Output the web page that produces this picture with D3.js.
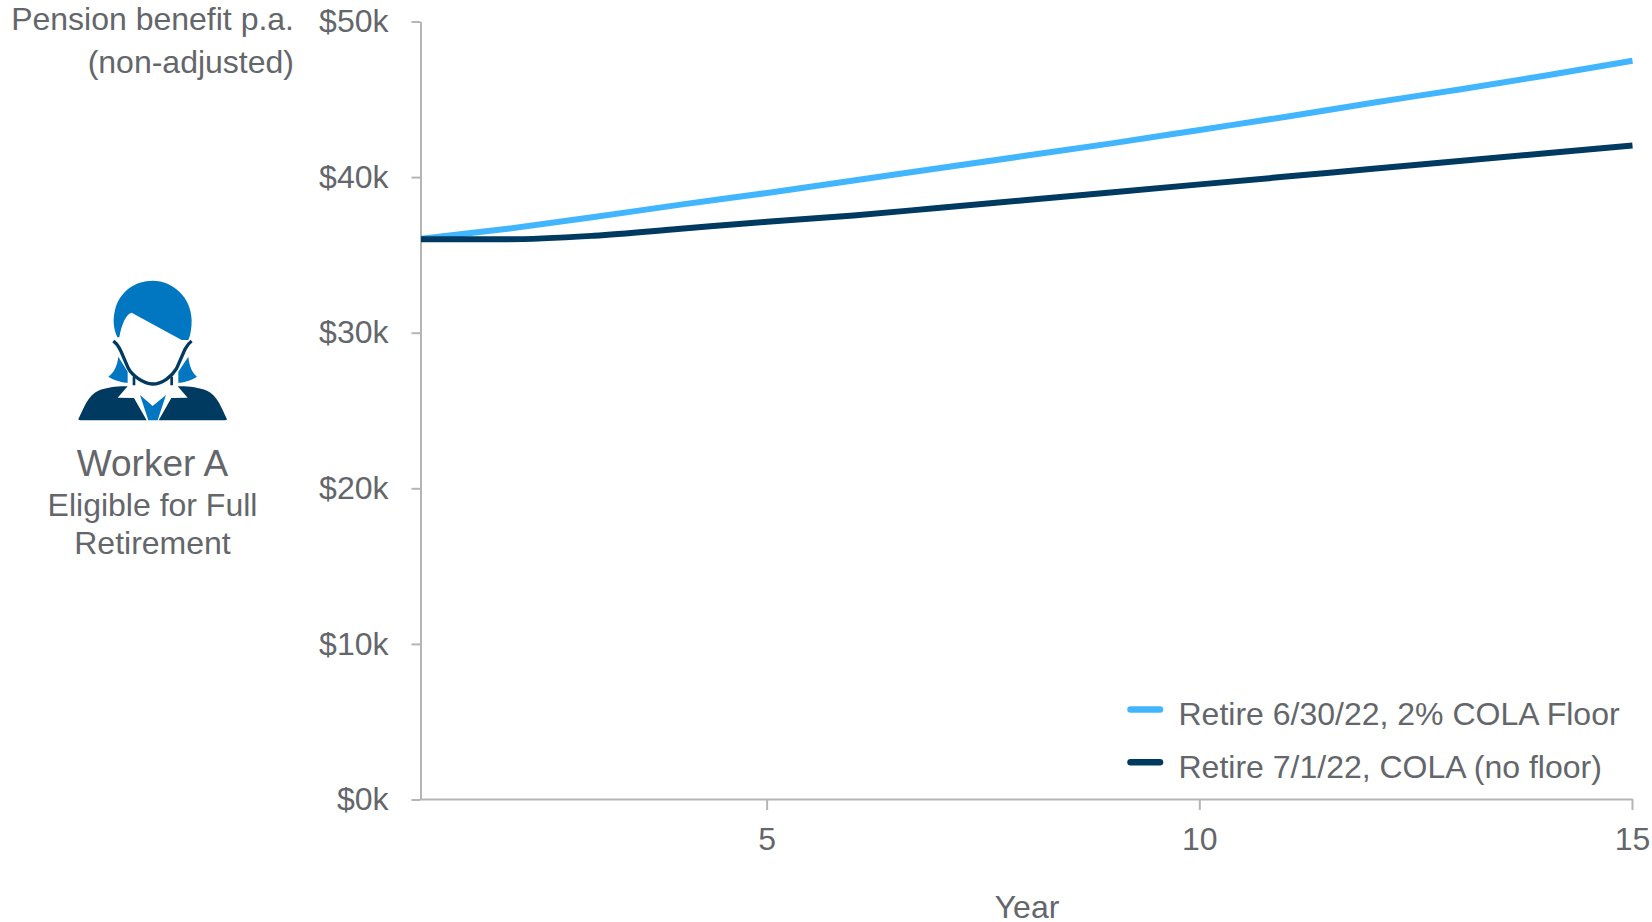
<!DOCTYPE html>
<html><head><meta charset="utf-8">
<script src="https://cdn.jsdelivr.net/npm/d3@7"></script>
<style>html,body{margin:0;padding:0;background:#fff}svg{display:block}text{font-family:"Liberation Sans",Arial,sans-serif;fill:#63666a}</style>
</head><body><svg id="c" width="1652" height="922"></svg>
<script>
const years=[1,2,3,4,5,6,7,8,9,10,11,12,13,14,15];
const floorValues=[36,36.65,37.4,38.2,38.95,39.75,40.55,41.35,42.15,43,43.85,44.75,45.6,46.5,47.45];
const noFloorValues=[35.97,35.97,36.2,36.65,37.1,37.5,38,38.5,39,39.5,40,40.5,41,41.5,42];
const xTicks=[5,10,15];
const yTicks=[0,10,20,30,40,50];
const seriesNames=["Retire 6/30/22, 2% COLA Floor","Retire 7/1/22, COLA (no floor)"];
const seriesColors=["#41b6ff","#003a60"];
const axisColor="#b5b5b5";

const svg=d3.select("#c");
const x=d3.scaleLinear().domain([1,15]).range([421,1632.5]);
const y=d3.scaleLinear().domain([0,50]).range([799,21]);

const gx=svg.append("g").attr("transform","translate(-0.5,799)").call(d3.axisBottom(x).tickValues(xTicks).tickSize(11).tickSizeOuter(0).tickPadding(17));
const gy=svg.append("g").attr("transform","translate(420.5,0.5)").call(d3.axisLeft(y).tickValues(yTicks).tickSize(9).tickSizeOuter(0).tickPadding(23).tickFormat(d=>"$"+d+"k"));
[gx,gy].forEach(g=>{
  g.select(".domain").attr("stroke",axisColor).attr("stroke-width",2);
  g.selectAll(".tick line").attr("stroke",axisColor).attr("stroke-width",2);
  g.selectAll("text").style("font-size","32px").style("font-family",'"Liberation Sans"').style("fill","#63666a");
});
const line=d3.line().x((d,i)=>x(years[i])).y(d=>y(d)).curve(d3.curveMonotoneX);
[floorValues,noFloorValues].forEach((s,i)=>{
  svg.append("path").datum(s).attr("d",line).attr("fill","none").attr("stroke",seriesColors[i]).attr("stroke-width",6);
});
// legend
seriesNames.forEach((n,i)=>{
  const ly=709.5+i*52.7;
  svg.append("line").attr("x1",1130.5).attr("x2",1160).attr("y1",ly).attr("y2",ly).attr("stroke",seriesColors[i]).attr("stroke-width",6.5).attr("stroke-linecap","round");
  svg.append("text").attr("x",1178.5).attr("y",ly+15+i).style("font-size","32px").text(n);
});
// axis titles
svg.append("text").attr("x",294).attr("y",30).attr("text-anchor","end").style("font-size","32px").text("Pension benefit p.a.");
svg.append("text").attr("x",294).attr("y",73).attr("text-anchor","end").style("font-size","32px").text("(non-adjusted)");
svg.append("text").attr("x",1027).attr("y",918).attr("text-anchor","middle").style("font-size","32px").text("Year");
// worker
const cx=152.5;
svg.append("text").attr("x",cx).attr("y",476).attr("text-anchor","middle").style("font-size","37px").text("Worker A");
svg.append("text").attr("x",cx).attr("y",516).attr("text-anchor","middle").style("font-size","32px").text("Eligible for Full");
svg.append("text").attr("x",cx).attr("y",554).attr("text-anchor","middle").style("font-size","32px").text("Retirement");
// icon
const ic=svg.append("g").attr("transform","translate(60,260) scale(0.3333)");
const blue="#0077c0",navy="#003a60";
ic.append("path").attr("fill",blue).attr("d","M172,232 C160,205 158,180 165,150 C178,95 225,62 278,62 C340,62 395,115 395,180 C395,205 392,225 385,240 L365,240 L215,158 C200,160 185,190 178,232 Z");
ic.append("path").attr("fill",blue).attr("d","M175,290 C172,320 160,340 145,350 C165,362 190,368 203,368 L203,335 Z");
ic.append("path").attr("fill",blue).attr("d","M385,290 C388,320 398,340 411,350 C392,362 368,368 355,368 L355,335 Z");
ic.append("path").attr("fill","none").attr("stroke",navy).attr("stroke-width",10).attr("d","M160,243 C172,252 176,258 182,272 L205,325 C215,345 250,372 278,372 C306,372 335,350 350,325 L375,268 C380,258 385,250 395,243");
ic.append("path").attr("fill","none").attr("stroke",navy).attr("stroke-width",8).attr("d","M222,350 V376 M335,350 V376");
ic.append("path").attr("fill",navy).attr("d","M55,478 C70,445 85,405 115,392 C140,382 175,378 203,379 L173,413 L222,414 L260,481 L62,481 Q55,481 55,478 Z");
ic.append("path").attr("fill",navy).attr("d","M501,478 C486,445 471,405 441,392 C416,382 381,378 353,379 L383,413 L334,414 L296,481 L494,481 Q501,481 501,478 Z");
ic.append("path").attr("fill",blue).attr("d","M240,405 L278,438 L318,405 L293,481 L265,481 Z");
</script></body></html>
